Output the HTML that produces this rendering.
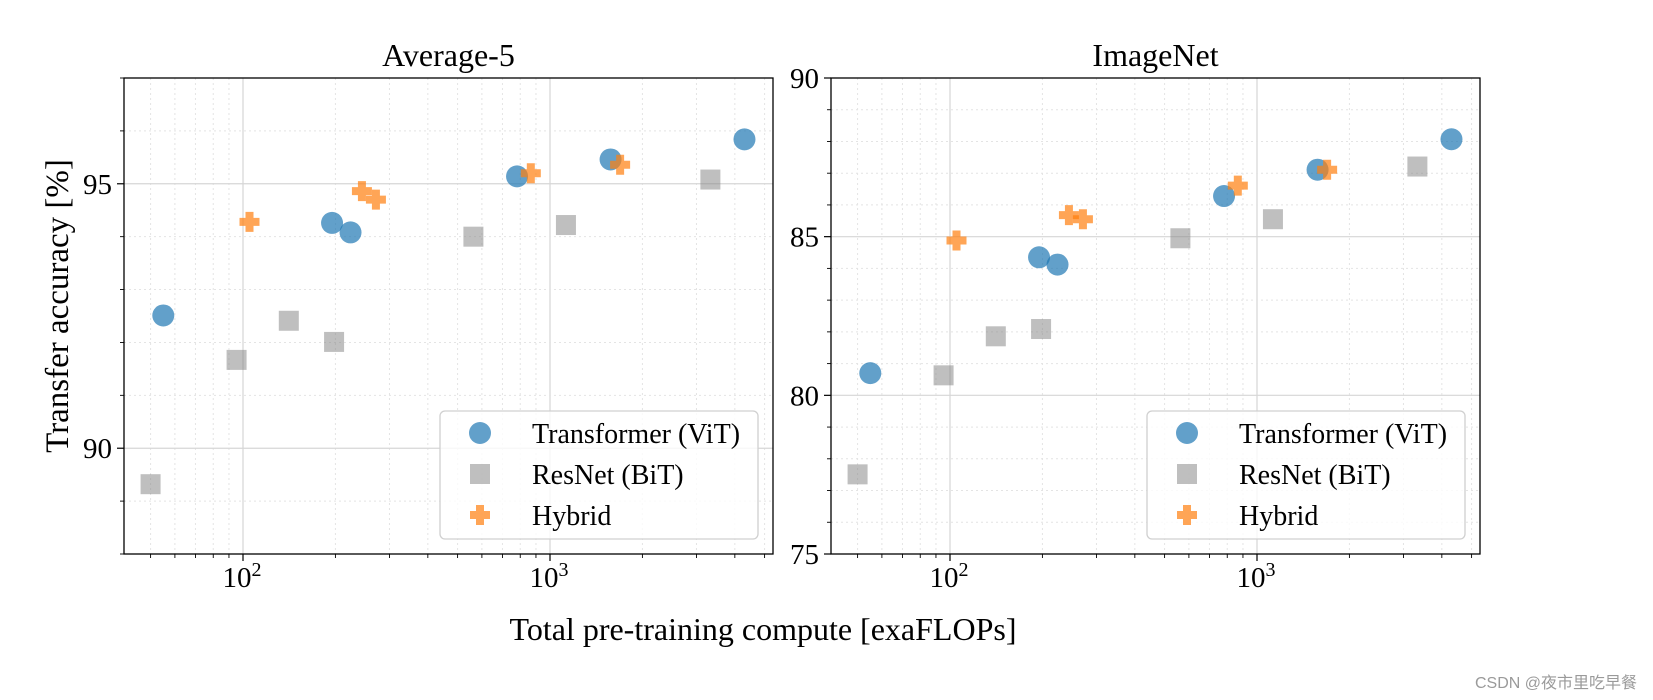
<!DOCTYPE html>
<html><head><meta charset="utf-8"><style>
html,body{margin:0;padding:0;background:#fff;}
svg{display:block;font-family:"Liberation Serif","DejaVu Serif",serif;}
</style></head><body>
<svg id="chart" width="1653" height="700" viewBox="0 0 1653 700"></svg>
<script>
const xVals = [55, 195, 224, 781, 1575, 4300];
const vitAvg = [92.51, 94.26, 94.08, 95.14, 95.46, 95.84];
const vitImg = [80.70, 84.35, 84.12, 86.28, 87.11, 88.07];
const resX = [50, 95.3, 141, 198, 563, 1127, 3330];
const resAvg = [89.32, 91.67, 92.41, 92.01, 94.0, 94.22, 95.08];
const resImg = [77.51, 80.63, 81.86, 82.09, 84.95, 85.55, 87.21];
const hybX = [105, 244, 271, 866, 1692];
const hybAvg = [94.28, 94.86, 94.70, 95.2, 95.36];
const hybImg = [84.88, 85.68, 85.55, 86.61, 87.11];
const titles = ["Average-5", "ImageNet"];
const yTicksAvg = [90, 95];
const yTicksImg = [75, 80, 85, 90];
const legendLabels = ["Transformer (ViT)", "ResNet (BiT)", "Hybrid"];

const NS = "http://www.w3.org/2000/svg";
const svg = document.getElementById('chart');
function mk(tag, attrs, parent){const e=document.createElementNS(NS,tag);for(const k in attrs)e.setAttribute(k,attrs[k]);(parent||svg).appendChild(e);return e;}

const panels = [
  {x0:124,x1:773,d2:243,dec:307,ymin:88,ymax:97,vit:vitAvg,res:resAvg,hyb:hybAvg,ticks:yTicksAvg,title:titles[0],name:'average-5'},
  {x0:831,x1:1480,d2:950,dec:307,ymin:75,ymax:90,vit:vitImg,res:resImg,hyb:hybImg,ticks:yTicksImg,title:titles[1],name:'imagenet'}
];
const Y0=78, Y1=554;
const BLUE='rgba(31,119,180,0.7)', GRAY='rgba(127,127,127,0.5)', ORANGE='rgba(255,127,14,0.7)';

function circle(g,cx,cy){return mk('circle',{cx:cx,cy:cy,r:11,fill:BLUE},g);}
function square(g,cx,cy){return mk('rect',{x:cx-10,y:cy-10,width:20,height:20,fill:GRAY},g);}
function plus(g,cx,cy){return mk('path',{d:`M${cx-4} ${cy-10}h8v6h6v8h-6v6h-8v-6h-6v-8h6z`,fill:ORANGE},g);}

panels.forEach(p=>{
  const g=mk('g',{});
  
  
  const sx=v=>p.d2+p.dec*(Math.log10(v)-2);
  const sy=v=>Y0+(p.ymax-v)/(p.ymax-p.ymin)*(Y1-Y0);
  for(let e=1;e<=3;e++)for(let m=1;m<=9;m++){const v=m*Math.pow(10,e);const x=sx(v);if(x<=p.x0||x>=p.x1)continue;
    const major=(m===1);
    const l=mk('line',{x1:x,x2:x,y1:Y0,y2:Y1,stroke:major?'#d6d6d6':'#e4e4e4','stroke-width':major?1.2:1,'stroke-dasharray':major?'':'2,3'},g);
    
    mk('line',{x1:x,x2:x,y1:Y1,y2:Y1+(major?7:4),stroke:'#000','stroke-width':major?1.2:0.9},g);
  }
  for(let v=p.ymin;v<=p.ymax;v++){const y=sy(v);const major=(v%5===0);
    if(y>Y0+1&&y<Y1-1){const l=mk('line',{x1:p.x0,x2:p.x1,y1:y,y2:y,stroke:major?'#d6d6d6':'#e4e4e4','stroke-width':major?1.2:1,'stroke-dasharray':major?'':'2,3'},g);
      }
    mk('line',{x1:p.x0,x2:p.x0-(major?7:4),y1:y,y2:y,stroke:'#000','stroke-width':major?1.2:0.9},g);
  }
  p.ticks.forEach(t=>{const tx=mk('text',{x:p.x0-12,y:sy(t)+10,'text-anchor':'end','font-size':29},g);tx.textContent=t;
    });
  [2,3].forEach(e=>{const x=sx(Math.pow(10,e));const tx=mk('text',{x:x-1,y:587,'text-anchor':'middle','font-size':29},g);
    tx.textContent='10';const s=mk('tspan',{dy:-11,'font-size':20},tx);s.textContent=e;
    });
  const box=mk('rect',{x:p.x0,y:Y0,width:p.x1-p.x0,height:Y1-Y0,fill:'none',stroke:'#000','stroke-width':1.3},g);
  
  const tt=mk('text',{x:(p.x0+p.x1)/2,y:66,'text-anchor':'middle','font-size':32},g);tt.textContent=p.title;
  
  resX.forEach((v,i)=>{const m=square(g,sx(v),sy(p.res[i]));});
  xVals.forEach((v,i)=>{const m=circle(g,sx(v),sy(p.vit[i]));});
  hybX.forEach((v,i)=>{const m=plus(g,sx(v),sy(p.hyb[i]));});
  const lg=mk('g',{},g);
  
  const lx=p.x1-333;
  mk('rect',{x:lx,y:411,width:318,height:128,rx:5,fill:'rgba(255,255,255,0.8)',stroke:'#d0d0d0','stroke-width':1.3},lg);
  const rows=[433,474,515];
  circle(lg,lx+40,rows[0]);square(lg,lx+40,rows[1]);plus(lg,lx+40,rows[2]);
  legendLabels.forEach((t,i)=>{const tx=mk('text',{x:lx+92,y:rows[i]+10,'font-size':28},lg);tx.textContent=t;
    });
});
const xl=mk('text',{x:763,y:640,'text-anchor':'middle','font-size':32});xl.textContent='Total pre-training compute [exaFLOPs]';

const yl=mk('text',{x:0,y:0,'text-anchor':'middle','font-size':33,transform:'translate(68,306) rotate(-90)'});yl.textContent='Transfer accuracy [%]';

const wm=mk('text',{x:1637,y:688,'text-anchor':'end','font-size':16,fill:'#9a9a9a','font-family':'"Liberation Sans","Noto Sans CJK SC",sans-serif'});wm.textContent='CSDN @夜市里吃早餐';

</script>
</body></html>
